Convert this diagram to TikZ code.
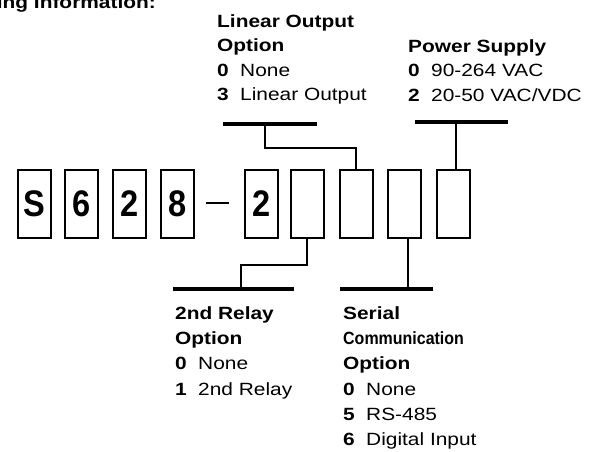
\documentclass[tikz,border=0pt]{standalone}
\usepackage{fontspec}
\setmainfont{Liberation Sans}[FakeStretch=1.18]
\newfontfamily\boxfont{Liberation Sans}[FakeStretch=0.88]
\begin{document}
\begin{tikzpicture}[x=1pt,y=-1pt,
  digitbox/.style={draw,line width=2pt,minimum width=33pt,minimum height=68pt,inner sep=0pt,
    font=\boxfont\bfseries\fontsize{37}{37}\selectfont},
  barline/.style={fill=black,inner sep=0pt,minimum height=4.5pt},
  conn/.style={line width=2pt},
  lbl/.style={anchor=base west,inner sep=0pt,font=\fontsize{17.7}{24}\selectfont},
  hd/.style={lbl,font=\bfseries\fontsize{17.7}{24}\selectfont}]
\clip (0,0) rectangle (597,451);
\useasboundingbox (0,0) rectangle (597,451);
% title (cut at the top)
\node[hd,anchor=base east] (title) at (156,8) {ring Information:};
% boxes
\node[digitbox] (b1) at (34.5,204) {S};
\node[digitbox] (b2) at (81.5,204) {6};
\node[digitbox] (b3) at (129.5,204) {2};
\node[digitbox] (b4) at (177.5,204) {8};
\node[digitbox] (b5) at (261.5,204) {2};
\node[digitbox] (b6) at (307.5,204) {};
\node[digitbox] (b7) at (356,204) {};
\node[digitbox] (b8) at (404.5,204) {};
\node[digitbox] (b9) at (453.5,204) {};
\coordinate (d1) at (206,203);
\coordinate (d2) at (229,203);
\draw[conn] (d1) -- (d2);
% bars
\node[barline,minimum width=94pt] (linbar) at (270,124) {};
\node[barline,minimum width=93pt] (pwrbar) at (461.5,122) {};
\node[barline,minimum width=121pt] (relbar) at (233.5,289) {};
\node[barline,minimum width=93pt] (serbar) at (386.5,289) {};
% connectors
\coordinate (lj) at (265,148);
\draw[conn] (b7.north) |- (lj) -- (lj |- linbar.south);
\coordinate (pj) at (455.5,0);
\draw[conn] (pj |- b9.north) -- (pj |- pwrbar.south);
\coordinate (rj1) at (307,265);
\coordinate (rj2) at (241,265);
\draw[conn] (rj1 |- b6.south) -- (rj1) -- (rj2) -- (rj2 |- relbar.north);
\coordinate (sj) at (408,0);
\draw[conn] (sj |- b8.south) -- (sj |- serbar.north);
% Linear output
\node[hd] (l1) at (217,27.5) {Linear Output};
\node[hd] (l2) at (217,51.5) {Option};
\node[hd] (l3a) at (217,76) {0};
\node[lbl] (l3b) at (240,76) {None};
\node[hd] (l4a) at (217,100.5) {3};
\node[lbl] (l4b) at (240,100.5) {Linear Output};
% Power supply
\node[hd] (p1) at (408,52.5) {Power Supply};
\node[hd] (p2a) at (408,76.5) {0};
\node[lbl] (p2b) at (431,76.5) {90-264 VAC};
\node[hd] (p3a) at (408,101) {2};
\node[lbl] (p3b) at (431,101) {20-50 VAC/VDC};
% 2nd relay
\node[hd] (r1) at (175,319) {2nd Relay};
\node[hd] (r2) at (175,344) {Option};
\node[hd] (r3a) at (175,369.5) {0};
\node[lbl] (r3b) at (198,369.5) {None};
\node[hd] (r4a) at (175,395) {1};
\node[lbl] (r4b) at (198,395) {2nd Relay};
% serial
\node[hd] (s1) at (343,319) {Serial};
\node[hd] (s2) at (343,344) {\scalebox{0.765}[1]{Communication}};
\node[hd] (s3) at (343,369.5) {Option};
\node[hd] (s4a) at (343,395) {0};
\node[lbl] (s4b) at (366,395) {None};
\node[hd] (s5a) at (343,420) {5};
\node[lbl] (s5b) at (366,420) {RS-485};
\node[hd] (s6a) at (343,445) {6};
\node[lbl] (s6b) at (366,445) {Digital Input};
\end{tikzpicture}
\end{document}
